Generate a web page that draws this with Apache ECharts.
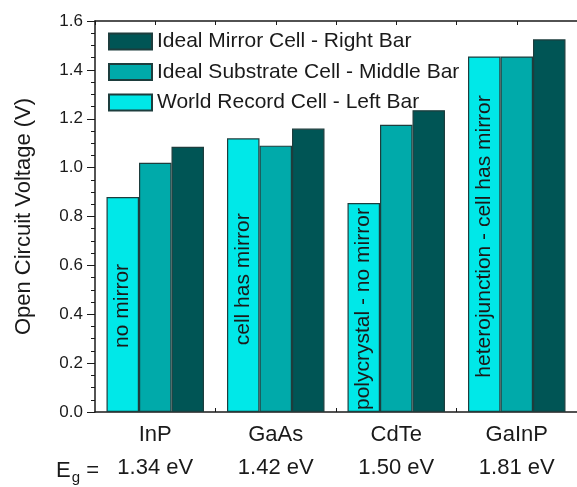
<!DOCTYPE html>
<html>
<head>
<meta charset="utf-8">
<script src="https://cdn.jsdelivr.net/npm/echarts@6/dist/echarts.min.js"></script>
<style>
  html, body { margin: 0; padding: 0; background: #fff; }
  #chart { width: 577px; height: 487px; }
</style>
</head>
<body>
<div id="chart"></div>
<script>
// cells and their band gaps
const categories = ['InP', 'GaAs', 'CdTe', 'GaInP']
const bandgaps = ['1.34', '1.42', '1.50', '1.81']
// open circuit voltage (V)
const worldRecord = [0.88, 1.12, 0.855, 1.455]
const idealSubstrate = [1.02, 1.09, 1.175, 1.455]
const idealMirror = [1.085, 1.16, 1.235, 1.525]
const notes = ['no mirror', 'cell has mirror', 'polycrystal - no mirror', 'heterojunction - cell has mirror']
const noteOffsets = [109, 141, 106, 180]
const yTicks = [0, 0.2, 0.4, 0.6, 0.8, 1.0, 1.2, 1.4, 1.6]

const font = 'Liberation Sans, Arial, Helvetica, sans-serif'
const ink = '#1a1a1a'
const edge = '#1d3d3d'

const chart = echarts.init(document.getElementById('chart'))

const toPoints = (vals) => vals.map((v, i) => [i + 1, v])

chart.setOption({
  animation: false,
  textStyle: { fontFamily: font, color: ink },
  title: {
    text: '{e|E}{g|g}{e| =}',
    left: 56,
    top: 459,
    padding: 0,
    textStyle: {
      fontWeight: 'normal',
      rich: {
        e: { fontSize: 22, fontFamily: font, fontWeight: 'normal', color: ink, lineHeight: 24 },
        g: { fontSize: 15, fontFamily: font, fontWeight: 'normal', color: ink, lineHeight: 24, padding: [14, 0, 0, 1] },
      },
    },
  },
  legend: {
    orient: 'vertical',
    left: 108,
    top: 31,
    padding: 0,
    icon: 'rect',
    itemWidth: 43,
    itemHeight: 16,
    itemGap: 9.5,
    data: ['Ideal Mirror Cell - Right Bar', 'Ideal Substrate Cell - Middle Bar', 'World Record Cell - Left Bar'],
    textStyle: { fontSize: 21, fontFamily: font, color: ink, lineHeight: 16 },
  },
  grid: { left: 95, right: -2, top: 21, bottom: 75 },
  xAxis: [
    {
      type: 'value',
      position: 'bottom',
      min: 0.5,
      max: 4.5,
      interval: 0.5,
      splitLine: { show: false },
      axisLine: { show: true, lineStyle: { color: ink, width: 1.5 } },
      axisTick: { show: true, inside: true, length: 4, lineStyle: { color: ink } },
      axisLabel: {
        margin: 6,
        showMinLabel: false,
        showMaxLabel: false,
        formatter: (v) => {
          if (Math.abs(v - Math.round(v)) > 1e-6) return ''
          const i = Math.round(v) - 1
          if (i < 0 || i >= categories.length) return ''
          return '{c|' + categories[i] + '}\n{c|' + bandgaps[i] + ' eV}'
        },
        rich: {
          c: { fontSize: 22, fontFamily: font, color: ink, lineHeight: 33 },
        },
      },
    },
    {
      type: 'value',
      position: 'top',
      min: 0.5,
      max: 4.5,
      interval: 0.5,
      splitLine: { show: false },
      axisLine: { show: true, lineStyle: { color: ink, width: 1.5 } },
      axisTick: { show: true, inside: true, length: 4, lineStyle: { color: ink } },
      axisLabel: { show: false },
    },
  ],
  yAxis: {
    type: 'value',
    min: yTicks[0],
    max: yTicks[yTicks.length - 1],
    interval: 0.2,
    name: 'Open Circuit Voltage (V)',
    nameLocation: 'middle',
    nameGap: 60,
    nameTextStyle: { fontSize: 22, fontFamily: font, color: ink },
    splitLine: { show: false },
    axisLine: { show: true, lineStyle: { color: ink, width: 1.5 } },
    axisTick: { show: true, inside: false, length: 8, lineStyle: { color: ink } },
    minorTick: { show: true, splitNumber: 4, length: 4, lineStyle: { color: ink } },
    axisLabel: {
      margin: 12,
      fontSize: 17,
      fontFamily: font,
      color: ink,
      formatter: (v) => v.toFixed(1),
    },
  },
  series: [
    {
      name: 'World Record Cell - Left Bar',
      type: 'bar',
      barWidth: 32.5,
      barGap: '0%',
      itemStyle: { color: '#00e8e8', borderColor: edge, borderWidth: 1.2 },
      data: toPoints(worldRecord).map((p, i) => ({
        value: p,
        label: {
          show: true,
          position: [16, noteOffsets[i]],
          rotate: 90,
          align: 'center',
          verticalAlign: 'middle',
          formatter: notes[i],
          fontSize: 21,
          fontFamily: font,
          color: ink,
        },
      })),
    },
    {
      name: 'Ideal Substrate Cell - Middle Bar',
      type: 'bar',
      barWidth: 32.5,
      barGap: '0%',
      itemStyle: { color: '#00aaaa', borderColor: edge, borderWidth: 1.2 },
      data: toPoints(idealSubstrate),
    },
    {
      name: 'Ideal Mirror Cell - Right Bar',
      type: 'bar',
      barWidth: 32.5,
      barGap: '0%',
      itemStyle: { color: '#005555', borderColor: edge, borderWidth: 1.2 },
      data: toPoints(idealMirror),
    },
  ],
})
</script>
</body>
</html>
